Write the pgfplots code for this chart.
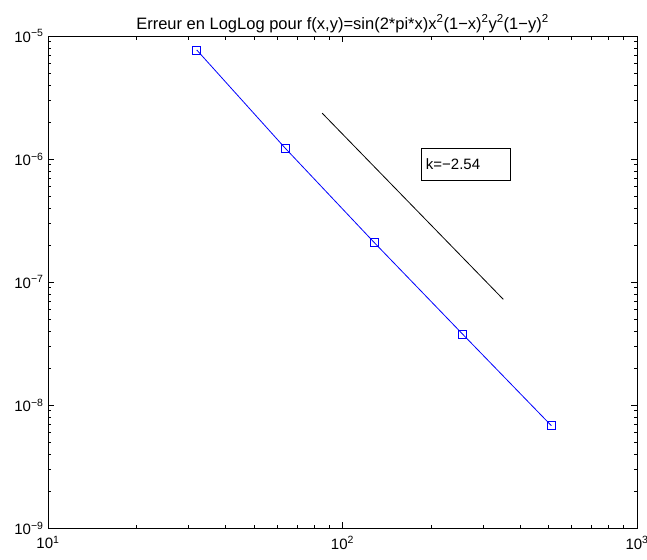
\documentclass[border=0pt]{standalone}
\usepackage{fontspec}
\setmainfont{Liberation Sans}
\usepackage{pgfplots}
\pgfplotsset{compat=1.18}
\definecolor{mblue}{RGB}{0,0,255}
\begin{document}
\begin{tikzpicture}
\path[use as bounding box] (-48bp,-32bp) rectangle (599bp,528bp);
\begin{axis}[
    scale only axis,
    width=589bp, height=492bp,
    xmode=log, ymode=log,
    xmin=10, xmax=1000, ymin=1e-9, ymax=1e-5,
    xtick={10,100,1000},
    xticklabels={10\textsuperscript{1},10\textsuperscript{2},10\textsuperscript{3}},
    ytick={1e-9,1e-8,1e-7,1e-6,1e-5},
    yticklabels={10\textsuperscript{−9},10\textsuperscript{−8},10\textsuperscript{−7},10\textsuperscript{−6},10\textsuperscript{−5}},
    ticklabel style={font=\fontsize{15bp}{17bp}\selectfont},
    xticklabel style={yshift=-5bp},
    yticklabel style={xshift=-1bp},
    title={Erreur en LogLog pour f(x,y)=sin(2*pi*x)x\textsuperscript{2}(1−x)\textsuperscript{2}y\textsuperscript{2}(1−y)\textsuperscript{2}},
    title style={font=\fontsize{16.5bp}{19bp}\selectfont, yshift=-6bp},
    major tick length=6bp, minor tick length=3.5bp,
    axis line style={line width=0.8bp},
    tick style={line width=0.6bp, black},
]
% erreur : ligne + carres (carres dessines comme noeuds aux points de donnees)
\addplot[draw=mblue, line width=0.8bp, mark=none,
         nodes near coords={},
         every node near coord/.style={draw=mblue, line width=0.9bp, rectangle,
             minimum size=8bp, inner sep=0pt, anchor=center}] coordinates {
(32,7.7e-6) (64,1.22e-6) (128,2.10e-7) (256,3.76e-8) (512,6.79e-9)
};
% pente de reference
\addplot[black, line width=0.8bp] coordinates {
(85.3,2.36e-6) (351.6,7.23e-8)
};
\node[draw, line width=0.6bp, fill=white, minimum width=89bp, minimum height=32bp, inner sep=0pt,
      font=\fontsize{15bp}{17bp}\selectfont] at (axis cs:262.5,9.1e-7)
      {\makebox[80bp][l]{k=−2.54}};
\end{axis}
\end{tikzpicture}
\end{document}
